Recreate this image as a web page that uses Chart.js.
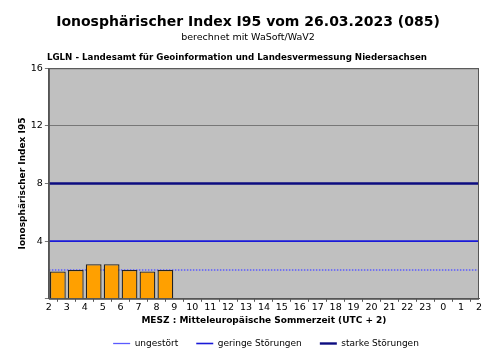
<!DOCTYPE html>
<html>
<head>
<meta charset="utf-8">
<script src="https://cdn.jsdelivr.net/npm/chart.js@4"></script>
<style>
  html, body { margin: 0; padding: 0; background: #fff; }
  #wrap { width: 493px; height: 354px; }
</style>
</head>
<body>
<div id="wrap"><canvas id="myChart" width="493" height="354"></canvas></div>
<script>
// hour slots (MESZ), starting at 2:00
var hourLabels = [2, 3, 4, 5, 6, 7, 8, 9, 10, 11, 12, 13, 14, 15, 16, 17, 18, 19, 20, 21, 22, 23, 0, 1, 2];
var barHours = [2, 3, 4, 5, 6, 7, 8];
var i95Values = [1.9, 2.0, 2.4, 2.4, 2.0, 1.9, 2.0];

var levelNames = ['ungestört', 'geringe Störungen', 'starke Störungen'];
var levelValues = [2, 4, 8];
var levelColors = ['#5a5aff', '#1a1ad8', '#0c0c80'];

var slotOf = function (h) { return (h - 2 + 24) % 24 + 0.5; };

var bgPlugin = {
  id: 'plotBg',
  afterLayout: function (chart) {
    // legend sits a bit right of centre in the original
    chart.legend.left += 18;
    chart.legend.right += 18;
  },
  beforeDraw: function (chart) {
    var a = chart.chartArea, c = chart.ctx;
    c.save();
    c.fillStyle = '#c0c0c0';
    c.fillRect(a.left, a.top, a.right - a.left, a.bottom - a.top);
    c.restore();
  },
  afterDraw: function (chart) {
    var a = chart.chartArea, c = chart.ctx;
    c.save();
    c.strokeStyle = '#555';
    c.lineWidth = 1;
    c.strokeRect(a.left + 0.5, a.top + 0.5, a.right - a.left - 1, a.bottom - a.top);
    c.fillStyle = '#000';
    c.font = 'bold 8.7px "DejaVu Sans"';
    c.textBaseline = 'bottom';
    c.fillText('LGLN - Landesamt für Geoinformation und Landesvermessung Niedersachsen', a.left - 2, a.top - 6);
    c.restore();
  }
};

var datasets = [{
  type: 'bar',
  label: 'I95',
  data: barHours.map(function (h, i) { return { x: slotOf(h), y: i95Values[i] }; }),
  backgroundColor: '#ffa000',
  borderColor: '#222222',
  borderWidth: 1.3,
  barPercentage: 0.88,
  categoryPercentage: 1,
  order: 0
}];

levelValues.forEach(function (v, i) {
  datasets.push({
    type: 'line',
    label: levelNames[i],
    data: [{ x: 0, y: v }, { x: 24, y: v }],
    borderColor: levelColors[i],
    backgroundColor: levelColors[i],
    borderWidth: [1.3, 1.6, 2.4][i],
    borderDash: i === 0 ? [1.5, 1.5] : [],
    pointRadius: 0,
    pointStyle: 'line',
    order: 1
  });
});

var ctx = document.getElementById('myChart').getContext('2d');
var myChart = new Chart(ctx, {
  type: 'bar',
  data: { datasets: datasets },
  plugins: [bgPlugin],
  options: {
    responsive: false,
    animation: false,
    layout: { padding: { left: 17, right: 14, top: 0, bottom: -4 } },
    plugins: {
      title: {
        display: true,
        text: 'Ionosphärischer Index I95 vom 26.03.2023 (085)',
        color: '#000',
        font: { family: 'DejaVu Sans', size: 14, weight: 'bold' },
        padding: { top: 14, bottom: 1 }
      },
      subtitle: {
        display: true,
        text: 'berechnet mit WaSoft/WaV2',
        color: '#000',
        font: { family: 'DejaVu Sans', size: 9.5 },
        padding: { top: 0, bottom: 25 }
      },
      legend: {
        position: 'bottom',
        labels: {
          filter: function (item) { return item.datasetIndex > 0; },
          usePointStyle: true,
          pointStyleWidth: 17,
          color: '#000',
          font: { family: 'DejaVu Sans', size: 9 },
          padding: 18
        }
      },
      tooltip: { enabled: false }
    },
    scales: {
      x: {
        type: 'linear',
        min: 0,
        max: 24,
        offset: false,
        border: { color: '#555' },
        grid: { drawOnChartArea: false, tickLength: 3, color: '#555' },
        ticks: {
          stepSize: 1,
          autoSkip: false,
          maxRotation: 0,
          color: '#000',
          padding: 0,
          font: { family: 'DejaVu Sans', size: 9.5 },
          callback: function (v) { return hourLabels[v]; }
        },
        title: {
          display: true,
          text: 'MESZ : Mitteleuropäische Sommerzeit (UTC + 2)',
          color: '#000',
          font: { family: 'DejaVu Sans', size: 9, weight: 'bold' },
          padding: { top: 2, bottom: -5 }
        }
      },
      y: {
        min: 0,
        max: 16,
        border: { color: '#555' },
        grid: { color: '#777777', tickLength: 4 },
        ticks: {
          stepSize: 4,
          color: '#000',
          padding: 2,
          font: { family: 'DejaVu Sans', size: 9.5 },
          callback: function (v) { return v === 0 ? '' : v; }
        },
        title: {
          display: true,
          text: 'Ionosphärischer Index I95',
          color: '#000',
          font: { family: 'DejaVu Sans', size: 9, weight: 'bold' },
          padding: { top: 0, bottom: 1 }
        }
      }
    }
  }
});
</script>
</body>
</html>
